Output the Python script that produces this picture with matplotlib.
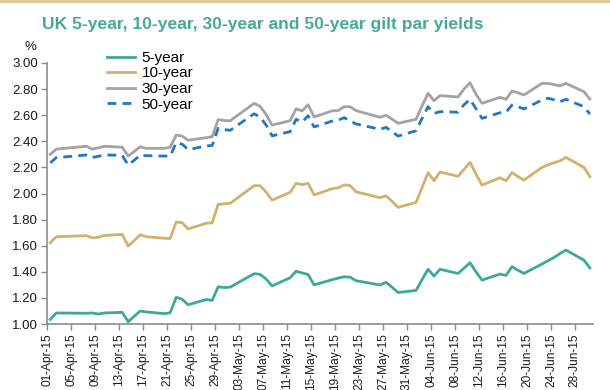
import matplotlib
matplotlib.use("Agg")
import matplotlib.pyplot as plt
import matplotlib.dates as mdates
import pandas as pd

plt.rcParams["font.family"] = ["Liberation Sans", "DejaVu Sans"]

# business days (UK holidays 3 Apr, 6 Apr, 4 May, 25 May excluded)
dates = [
    "2015-04-01", "2015-04-02", "2015-04-07", "2015-04-08", "2015-04-09", "2015-04-10",
    "2015-04-13", "2015-04-14", "2015-04-15", "2015-04-16", "2015-04-17",
    "2015-04-20", "2015-04-21", "2015-04-22", "2015-04-23", "2015-04-24",
    "2015-04-27", "2015-04-28", "2015-04-29", "2015-04-30", "2015-05-01",
    "2015-05-05", "2015-05-06", "2015-05-07", "2015-05-08",
    "2015-05-11", "2015-05-12", "2015-05-13", "2015-05-14", "2015-05-15",
    "2015-05-18", "2015-05-19", "2015-05-20", "2015-05-21", "2015-05-22",
    "2015-05-26", "2015-05-27", "2015-05-28", "2015-05-29",
    "2015-06-01", "2015-06-02", "2015-06-03", "2015-06-04", "2015-06-05",
    "2015-06-08", "2015-06-09", "2015-06-10", "2015-06-11", "2015-06-12",
    "2015-06-15", "2015-06-16", "2015-06-17", "2015-06-18", "2015-06-19",
    "2015-06-22", "2015-06-23", "2015-06-24", "2015-06-25", "2015-06-26",
    "2015-06-29", "2015-06-30",
]

yield_5y = [
    1.035, 1.085, 1.083, 1.085, 1.077, 1.085, 1.090, 1.018, 1.060, 1.100, 1.093,
    1.080, 1.087, 1.205, 1.190, 1.148, 1.188, 1.182, 1.286, 1.280, 1.283,
    1.386, 1.381, 1.345, 1.292, 1.355, 1.405, 1.392, 1.380, 1.300,
    1.340, 1.352, 1.362, 1.360, 1.332, 1.300, 1.320, 1.282, 1.242,
    1.258, 1.340, 1.420, 1.368, 1.420, 1.388, 1.428, 1.470, 1.400, 1.337,
    1.383, 1.373, 1.440, 1.412, 1.388, 1.460, 1.485, 1.510, 1.540, 1.567,
    1.490, 1.430,
]

yield_10y = [
    1.623, 1.669, 1.677, 1.661, 1.664, 1.679, 1.687, 1.598, 1.640, 1.684, 1.669,
    1.658, 1.656, 1.782, 1.776, 1.729, 1.772, 1.776, 1.917, 1.921, 1.925,
    2.060, 2.060, 2.010, 1.950, 2.009, 2.078, 2.068, 2.078, 1.989,
    2.037, 2.043, 2.066, 2.061, 2.013, 1.968, 1.982, 1.940, 1.894,
    1.932, 2.045, 2.160, 2.098, 2.165, 2.132, 2.185, 2.239, 2.150, 2.065,
    2.121, 2.098, 2.160, 2.130, 2.103, 2.200, 2.220, 2.236, 2.250, 2.277,
    2.200, 2.129,
]

yield_30y = [
    2.300, 2.340, 2.362, 2.340, 2.350, 2.362, 2.355, 2.287, 2.322, 2.358, 2.346,
    2.346, 2.354, 2.448, 2.440, 2.408, 2.428, 2.435, 2.566, 2.560, 2.557,
    2.691, 2.668, 2.605, 2.524, 2.558, 2.649, 2.633, 2.680, 2.587,
    2.633, 2.635, 2.665, 2.665, 2.635, 2.584, 2.600, 2.570, 2.538,
    2.569, 2.670, 2.768, 2.711, 2.750, 2.740, 2.800, 2.849, 2.760, 2.691,
    2.737, 2.722, 2.785, 2.772, 2.755, 2.844, 2.844, 2.835, 2.824, 2.844,
    2.780, 2.724,
]

yield_50y = [
    2.235, 2.275, 2.295, 2.276, 2.285, 2.296, 2.292, 2.218, 2.255, 2.294, 2.290,
    2.287, 2.287, 2.389, 2.378, 2.336, 2.365, 2.368, 2.499, 2.490, 2.484,
    2.611, 2.585, 2.525, 2.442, 2.474, 2.569, 2.547, 2.596, 2.510,
    2.555, 2.562, 2.581, 2.556, 2.533, 2.492, 2.507, 2.475, 2.440,
    2.481, 2.575, 2.665, 2.614, 2.627, 2.623, 2.680, 2.722, 2.650, 2.576,
    2.619, 2.622, 2.678, 2.665, 2.648, 2.716, 2.730, 2.718, 2.703, 2.722,
    2.665, 2.609,
]

series_labels = ["5-year", "10-year", "30-year", "50-year"]

# points sit in the middle of each day slot
x = pd.to_datetime(dates) + pd.Timedelta(hours=12)
ticks = pd.date_range("2015-04-01", "2015-06-28", freq="4D")

fig = plt.figure(figsize=(6.1, 3.9), dpi=100)
ax = fig.add_axes([0.0775, 0.169, 0.8945, 0.6695])

ax.plot(x, yield_5y, color="#3ea899", lw=2.0, label=series_labels[0])
ax.plot(x, yield_10y, color="#d4b06c", lw=2.0, label=series_labels[1])
ax.plot(x, yield_30y, color="#a3a3a3", lw=2.0, label=series_labels[2])
ax.plot(x, yield_50y, color="#1f78c4", lw=2.0, ls=(0, (3.2, 2.2)), label=series_labels[3])

ax.set_xlim(pd.Timestamp("2015-04-01"), pd.Timestamp("2015-07-01"))
ax.set_ylim(1.0, 3.0)
ax.set_yticks([1.0, 1.2, 1.4, 1.6, 1.8, 2.0, 2.2, 2.4, 2.6, 2.8, 3.0])
ax.yaxis.set_major_formatter(matplotlib.ticker.FormatStrFormatter("%.2f"))
ax.set_xticks(ticks)
ax.xaxis.set_major_formatter(mdates.DateFormatter("%d-%b-%y"))
plt.setp(ax.get_xticklabels(), rotation=90)

for side in ["top", "right"]:
    ax.spines[side].set_visible(False)
for side in ["left", "bottom"]:
    ax.spines[side].set_color("#8c8c8c")
    ax.spines[side].set_linewidth(1.2)
ax.tick_params(axis="both", colors="#8c8c8c", length=4, width=1.0,
               labelcolor="#1a1a1a", labelsize=9.5, pad=2.5)
ax.tick_params(axis="x", labelsize=8.6)

fig.text(0.05, 0.865, "%", fontsize=9.5, ha="center", va="bottom", color="#1a1a1a")

fig.text(0.43, 0.938, "UK 5-year, 10-year, 30-year and 50-year gilt par yields",
         ha="center", va="center", fontsize=12.6, fontweight="bold",
         color="#4aa89b")

ax.legend(loc="upper left", bbox_to_anchor=(0.166, 0.885), bbox_transform=fig.transFigure,
          frameon=False, fontsize=11, handlelength=1.8, labelspacing=0.1,
          handletextpad=0.45, borderaxespad=0)

# thin tan rule across the top edge
fig.add_artist(plt.Line2D([0, 1], [0.997, 0.997], transform=fig.transFigure,
                          color="#dcc592", lw=2))

fig.savefig("out.png", dpi=100)
